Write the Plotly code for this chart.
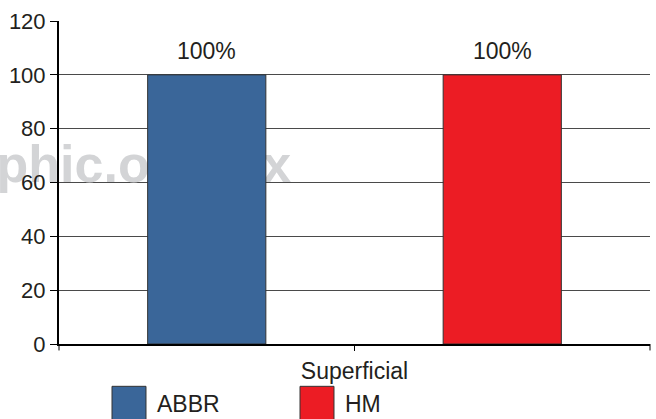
import plotly.graph_objects as go

# Data
categories = ["Superficial"]
series_names = ["ABBR", "HM"]
series_values = [[100], [100]]
series_colors = ["#3a6699", "#ec1c24"]
y_ticks = [0, 20, 40, 60, 80, 100, 120]
watermark = "medigraphic.org.mx"

FONT = "Liberation Sans, Arial, sans-serif"
INK = "#231f20"

fig = go.Figure()

# Watermark sits on the base subplot so the bars (overlay subplot) cover it
fig.add_trace(go.Scatter(
    x=[0.393], y=[65], mode="text", text=[watermark],
    textposition="middle left", cliponaxis=False, hoverinfo="skip",
    textfont=dict(family="Liberation Sans, Arial, sans-serif",
                  size=52, color="#d3d4d6", weight="bold"),
    showlegend=False, xaxis="x", yaxis="y",
))

for name, vals, col in zip(series_names, series_values, series_colors):
    fig.add_trace(go.Bar(
        x=categories, y=vals, name=name, marker_color=col,
        marker_line=dict(color="#333333", width=1),
        xaxis="x2", yaxis="y2", showlegend=False,
    ))

# Value labels above the bars
n = len(series_names)
for i, (name, vals) in enumerate(zip(series_names, series_values)):
    for j, v in enumerate(vals):
        fig.add_annotation(
            x=j - 0.5 + (i + 0.5) / n, y=v, xref="x2", yref="y2",
            text=f"{v}%", showarrow=False, yanchor="bottom", yshift=9,
            font=dict(family=FONT, size=23, color=INK),
        )

# Legend drawn with large swatches
legend_x = [0.0897, 0.4078]
for name, col, lx in zip(series_names, series_colors, legend_x):
    fig.add_shape(type="rect", xref="paper", yref="paper",
                  x0=lx, x1=lx + 0.0575, y0=-0.131, y1=-0.236,
                  fillcolor=col, line=dict(color="#333333", width=1))
    fig.add_annotation(x=lx + 0.0727, y=-0.185, xref="paper", yref="paper",
                       text=name, showarrow=False, xanchor="left", yanchor="middle",
                       font=dict(family=FONT, size=23, color=INK))

# Boundary ticks on the category axis
for bx in [0, 1]:
    fig.add_shape(type="line", xref="paper", yref="paper",
                  x0=bx, x1=bx, y0=0, y1=-0.02,
                  line=dict(color="black", width=1))

fig.update_layout(
    width=656, height=419,
    margin=dict(l=59, r=6, t=21, b=75),
    paper_bgcolor="white", plot_bgcolor="white",
    barmode="group", bargap=0, bargroupgap=0.6,
    showlegend=False,
    font=dict(family=FONT, size=22, color=INK),
    xaxis=dict(range=[0, 1], visible=False, fixedrange=True),
    yaxis=dict(range=[0, 120], tickvals=y_ticks, showgrid=True,
               gridcolor="#4a4a4a", gridwidth=1,
               showline=True, linecolor="black", linewidth=2,
               ticks="outside", ticklen=7, tickcolor="black",
               tickfont=dict(family=FONT, size=22, color=INK),
               zeroline=False),
    xaxis2=dict(overlaying="x", anchor="y2", side="bottom",
                type="category", showline=True, linecolor="black", linewidth=2,
                ticks="outside", ticklen=5, tickcolor="black",
                tickfont=dict(family=FONT, size=23, color=INK),
                showgrid=False),
    yaxis2=dict(overlaying="y", range=[0, 120], visible=False, showgrid=False),
)

fig.write_html("out.html")
